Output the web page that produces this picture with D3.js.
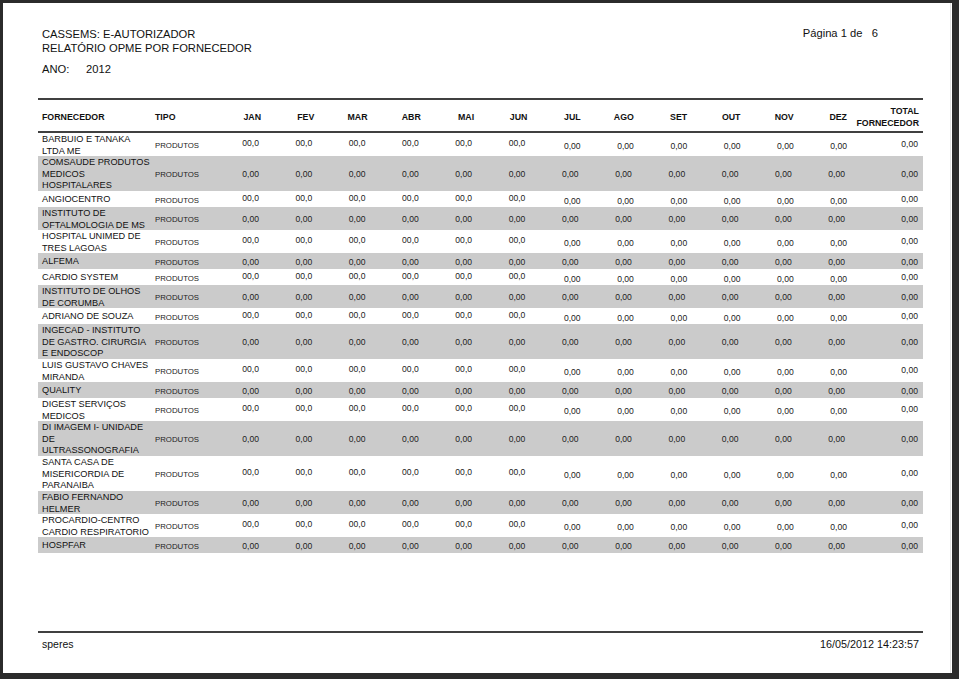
<!DOCTYPE html>
<html>
<head>
<meta charset="utf-8">
<script src="https://cdn.jsdelivr.net/npm/d3@7"></script>
<style>
  html, body { margin: 0; padding: 0; background: #2b2b2b; }
  svg { display: block; font-family: "Liberation Sans", Arial, sans-serif; }
</style>
</head>
<body>
<div id="chart"></div>
<script>
const titulo = ["CASSEMS: E-AUTORIZADOR", "RELATÓRIO OPME POR FORNECEDOR"];
const ano = "2012";
const pagina = "Página 1 de   6";
const usuario = "speres";
const dataHora = "16/05/2012 14:23:57";

const meses = ["JAN", "FEV", "MAR", "ABR", "MAI", "JUN", "JUL", "AGO", "SET", "OUT", "NOV", "DEZ"];

const fornecedores = [
    ["BARBUIO E TANAKA", "LTDA ME"],
    ["COMSAUDE PRODUTOS", "MEDICOS", "HOSPITALARES"],
    ["ANGIOCENTRO"],
    ["INSTITUTO DE", "OFTALMOLOGIA DE MS"],
    ["HOSPITAL UNIMED DE", "TRES LAGOAS"],
    ["ALFEMA"],
    ["CARDIO SYSTEM"],
    ["INSTITUTO DE OLHOS", "DE CORUMBA"],
    ["ADRIANO DE SOUZA"],
    ["INGECAD - INSTITUTO", "DE GASTRO. CIRURGIA", "E ENDOSCOP"],
    ["LUIS GUSTAVO CHAVES", "MIRANDA"],
    ["QUALITY"],
    ["DIGEST SERVIÇOS", "MEDICOS"],
    ["DI IMAGEM I- UNIDADE", "DE", "ULTRASSONOGRAFIA"],
    ["SANTA CASA DE", "MISERICORDIA DE", "PARANAIBA"],
    ["FABIO FERNANDO", "HELMER"],
    ["PROCARDIO-CENTRO", "CARDIO RESPIRATORIO"],
    ["HOSPFAR"]
];

const tipos = ["PRODUTOS", "PRODUTOS", "PRODUTOS", "PRODUTOS", "PRODUTOS", "PRODUTOS",
    "PRODUTOS", "PRODUTOS", "PRODUTOS", "PRODUTOS", "PRODUTOS", "PRODUTOS",
    "PRODUTOS", "PRODUTOS", "PRODUTOS", "PRODUTOS", "PRODUTOS", "PRODUTOS"];

const valoresMensais = [
    [0, 0, 0, 0, 0, 0, 0, 0, 0, 0, 0, 0],
    [0, 0, 0, 0, 0, 0, 0, 0, 0, 0, 0, 0],
    [0, 0, 0, 0, 0, 0, 0, 0, 0, 0, 0, 0],
    [0, 0, 0, 0, 0, 0, 0, 0, 0, 0, 0, 0],
    [0, 0, 0, 0, 0, 0, 0, 0, 0, 0, 0, 0],
    [0, 0, 0, 0, 0, 0, 0, 0, 0, 0, 0, 0],
    [0, 0, 0, 0, 0, 0, 0, 0, 0, 0, 0, 0],
    [0, 0, 0, 0, 0, 0, 0, 0, 0, 0, 0, 0],
    [0, 0, 0, 0, 0, 0, 0, 0, 0, 0, 0, 0],
    [0, 0, 0, 0, 0, 0, 0, 0, 0, 0, 0, 0],
    [0, 0, 0, 0, 0, 0, 0, 0, 0, 0, 0, 0],
    [0, 0, 0, 0, 0, 0, 0, 0, 0, 0, 0, 0],
    [0, 0, 0, 0, 0, 0, 0, 0, 0, 0, 0, 0],
    [0, 0, 0, 0, 0, 0, 0, 0, 0, 0, 0, 0],
    [0, 0, 0, 0, 0, 0, 0, 0, 0, 0, 0, 0],
    [0, 0, 0, 0, 0, 0, 0, 0, 0, 0, 0, 0],
    [0, 0, 0, 0, 0, 0, 0, 0, 0, 0, 0, 0],
    [0, 0, 0, 0, 0, 0, 0, 0, 0, 0, 0, 0]
];

const totais = [0, 0, 0, 0, 0, 0, 0, 0, 0, 0, 0, 0, 0, 0, 0, 0, 0, 0];

// the printed report shows JAN-JUN of the white rows as "00,0"
const textoJanJun = ["00,0", "0,00", "00,0", "0,00", "00,0", "0,00", "00,0", "0,00", "00,0",
    "0,00", "00,0", "0,00", "00,0", "0,00", "00,0", "0,00", "00,0", "0,00"];

const width = 959;
const height = 679;

const tableLeft = 38;
const tableRight = 923;
const headTop = 99;
const headBottom = 132;
const lineStep = 11.6;

const fmt = v => d3.format(".2f")(v).replace(".", ",");

const rowHeight = n => n === 1 ? 16 : n === 2 ? 23 : 35;
const rows = fornecedores.map((nome, i) => ({
    nome,
    tipo: tipos[i],
    valores: valoresMensais[i],
    total: totais[i],
    janJun: textoJanJun[i],
    h: rowHeight(nome.length),
    zebra: i % 2 === 1
}));
let acc = headBottom + 1;
rows.forEach(r => { r.y = acc; acc += r.h; });

const xMes = d3.scalePoint().domain(meses).range([259, 845]);
const xTotal = 918;

const svg = d3.select("#chart").append("svg")
    .attr("width", width)
    .attr("height", height);

// page
svg.append("rect").attr("width", width).attr("height", height).attr("fill", "#2b2b2b");
svg.append("rect").attr("x", 3).attr("y", 3).attr("width", 949).attr("height", 670).attr("fill", "white");
svg.append("line").attr("x1", 950.5).attr("x2", 950.5).attr("y1", 3).attr("y2", 673)
    .attr("stroke", "#e4e4e4");

// header of the report
svg.selectAll("text.titulo")
    .data(titulo)
    .enter()
    .append("text")
    .attr("class", "titulo")
    .attr("x", 42)
    .attr("y", (d, i) => 38 + i * 14)
    .attr("font-size", 11.2)
    .attr("fill", "#111")
    .text(d => d);

svg.append("text").attr("x", 42).attr("y", 73).attr("font-size", 11.2).attr("fill", "#111").text("ANO:");
svg.append("text").attr("x", 86).attr("y", 73).attr("font-size", 11.2).attr("fill", "#111").text(ano);

svg.append("text")
    .attr("x", 878).attr("y", 37)
    .attr("text-anchor", "end")
    .attr("font-size", 11.2)
    .attr("fill", "#111")
    .style("white-space", "pre")
    .text(pagina);

// table
const table = svg.append("g");

table.selectAll("rect.zebra")
    .data(rows.filter(r => r.zebra))
    .enter()
    .append("rect")
    .attr("class", "zebra")
    .attr("x", tableLeft)
    .attr("y", d => d.y)
    .attr("width", tableRight - tableLeft)
    .attr("height", d => d.h)
    .attr("fill", "#cbcbcb");

table.append("line").attr("x1", tableLeft).attr("x2", tableRight).attr("y1", headTop).attr("y2", headTop)
    .attr("stroke", "#000").attr("stroke-width", 1.3);
table.append("line").attr("x1", tableLeft).attr("x2", tableRight).attr("y1", headBottom).attr("y2", headBottom)
    .attr("stroke", "#000").attr("stroke-width", 1.3);

const head = table.append("g")
    .attr("font-size", 8.8)
    .attr("font-weight", "bold")
    .attr("fill", "#111");

head.append("text").attr("x", 42).attr("y", 120).text("FORNECEDOR");
head.append("text").attr("x", 155).attr("y", 120).text("TIPO");
head.selectAll("text.mes")
    .data(meses)
    .enter()
    .append("text")
    .attr("class", "mes")
    .attr("x", d => xMes(d) + 2)
    .attr("y", 120)
    .attr("text-anchor", "end")
    .text(d => d);
head.append("text").attr("x", 919).attr("y", 114).attr("text-anchor", "end").text("TOTAL");
head.append("text").attr("x", 919).attr("y", 126).attr("text-anchor", "end").text("FORNECEDOR");

const rowG = table.selectAll("g.linha")
    .data(rows)
    .enter()
    .append("g")
    .attr("class", "linha")
    .attr("transform", d => `translate(0,${d.y})`);

// supplier name, block centred in the row
rowG.each(function(r) {
    d3.select(this).selectAll("text.nome")
        .data(r.nome)
        .enter()
        .append("text")
        .attr("class", "nome")
        .attr("x", 42)
        .attr("y", (d, i) => r.h / 2 - (r.nome.length - 1) * lineStep / 2 + 3.3 + i * lineStep)
        .attr("font-size", 9.2)
        .attr("fill", "#111")
        .text(d => d);
});

rowG.append("text")
    .attr("x", 155)
    .attr("y", d => d.h / 2 + 3.5)
    .attr("font-size", 7.8)
    .attr("fill", "#222")
    .text(d => d.tipo);

rowG.selectAll("text.valor")
    .data(d => d.valores.map((v, i) => ({v, mes: meses[i], i, row: d})))
    .enter()
    .append("text")
    .attr("class", "valor")
    .attr("x", d => xMes(d.mes) + (!d.row.zebra && d.i >= 6 ? 2 : 0))
    .attr("y", d => d.row.h / 2 + 3.5 + (d.row.zebra ? 0 : d.i < 6 ? -2 : 1))
    .attr("text-anchor", "end")
    .attr("font-size", 8.6)
    .attr("fill", "#222")
    .text(d => d.i < 6 ? d.row.janJun : fmt(d.v));

rowG.append("text")
    .attr("x", xTotal)
    .attr("y", d => d.h / 2 + 3.5 + (d.zebra ? 0 : -1))
    .attr("text-anchor", "end")
    .attr("font-size", 8.6)
    .attr("fill", "#222")
    .text(d => fmt(d.total));

// footer
svg.append("line").attr("x1", tableLeft).attr("x2", tableRight).attr("y1", 632).attr("y2", 632)
    .attr("stroke", "#000").attr("stroke-width", 1.3);
svg.append("text").attr("x", 42).attr("y", 648).attr("font-size", 10.5).attr("fill", "#111").text(usuario);
svg.append("text").attr("x", 919).attr("y", 648).attr("text-anchor", "end")
    .attr("font-size", 10.8).attr("fill", "#111").text(dataHora);
</script>
</body>
</html>
